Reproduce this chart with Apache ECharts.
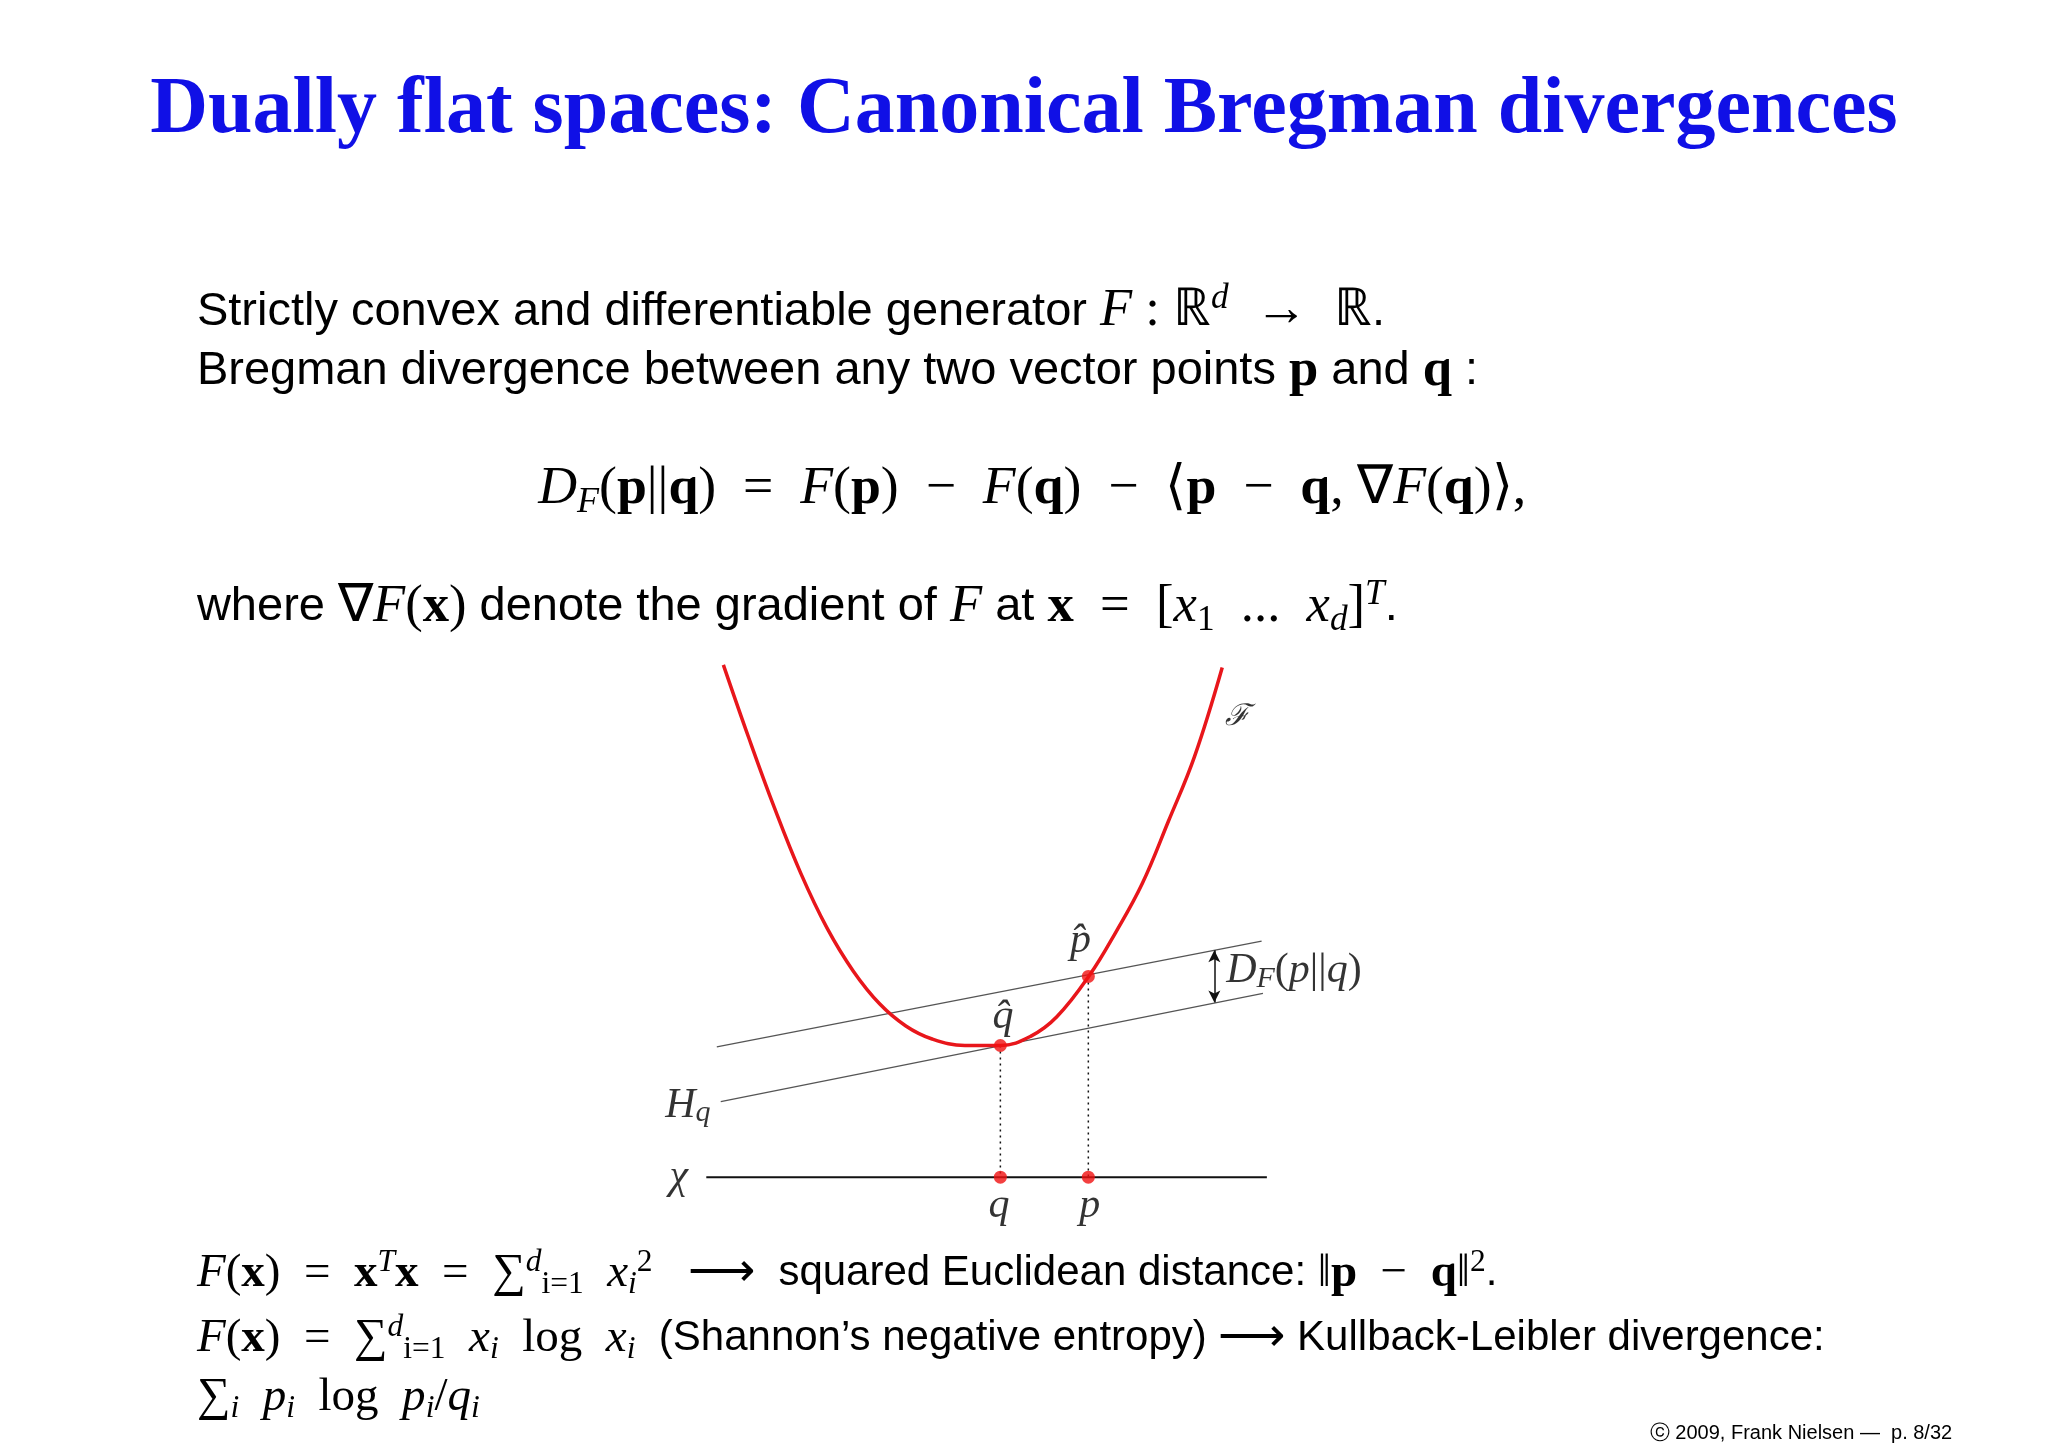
<!DOCTYPE html>
<html>
<head>
<meta charset="utf-8">
<script src="https://cdn.jsdelivr.net/npm/echarts@6/dist/echarts.min.js"></script>
<style>html,body{margin:0;padding:0;background:#fff}#chart{width:2048px;height:1447px}</style>
</head>
<body>
<div id="chart"></div>
<script>
// 図の値（元画像のピクセル座標を読み取り）
const curvePts = [[551,510],[570,565],[590,620],[610,670],[630,712],[650,745],[670,770],[690,787],[710,797],[735,802],[762,802],[785,795],[805,780],[830,748],[850,715],[870,678],[890,630],[910,580],[931,512]];
const upperLine = [[546,803],[961,722]];
const tangentLine = [[549,845],[962,762]];
const baseLine = [[538,903],[965,903]];
const dropQ = [[762,802],[762,903]];
const dropP = [[829,749],[829,903]];
const redDots = [[762,802],[829,749],[762,903],[829,903]];
const gapArrow = [[925,729],[925,769]];
const diagLabels = [
  { pos: [943,550], text: '{c|ℱ}' },
  { pos: [823,722], text: '{i|p̂}' },
  { pos: [764,780], text: '{i|q̂}' },
  { pos: [934,745], text: '{i|D}{s|F}{r|(}{i|p}{r|||}{i|q}{r|)}', left: true },
  { pos: [524,848], text: '{i|H}{s|q}' },
  { pos: [517,903], text: '{i|χ}' },
  { pos: [761,925], text: '{i|q}' },
  { pos: [830,925], text: '{i|p}' }
];

const SX = 2048 / 1560, SY = 1447 / 1110;
const serif = 'Liberation Serif';
const sans = 'Liberation Sans';

function richStyles(fs) {
  return {
    t: { fontFamily: sans, fontSize: fs, lineHeight: fs * 1.3 },
    r: { fontFamily: serif, fontSize: fs * 1.12, lineHeight: fs * 1.3 },
    i: { fontFamily: serif, fontStyle: 'italic', fontSize: fs * 1.12, lineHeight: fs * 1.3 },
    b: { fontFamily: serif, fontWeight: 'bold', fontSize: fs * 1.12, lineHeight: fs * 1.3 },
    sup: { fontFamily: serif, fontStyle: 'italic', fontSize: fs * 0.75, lineHeight: fs * 1.3, verticalAlign: 'top' },
    supr: { fontFamily: serif, fontSize: fs * 0.75, lineHeight: fs * 1.3, verticalAlign: 'top' },
    sub: { fontFamily: serif, fontStyle: 'italic', fontSize: fs * 0.75, lineHeight: fs * 1.1, verticalAlign: 'bottom' },
    subr: { fontFamily: serif, fontSize: fs * 0.75, lineHeight: fs * 1.1, verticalAlign: 'bottom' }
  };
}

function textLine(x, y, text, fs, align) {
  return {
    type: 'text', x: x * SX, y: y * SY,
    style: { text: text, rich: richStyles(fs), fill: '#000', align: align || 'left', verticalAlign: 'middle' }
  };
}

const FS = 47;
const texts = [
  textLine(150, 239, '{t|Strictly convex and differentiable generator }{i|F}{r| : ℝ}{sup|d}{r|  →  ℝ}{t|.}', FS),
  textLine(150, 285, '{t|Bregman divergence between any two vector points }{b|p}{t| and }{b|q}{t| :}', FS),
  textLine(410, 375, '{i|D}{sub|F}{r|(}{b|p}{r|||}{b|q}{r|)  =  }{i|F}{r|(}{b|p}{r|)  −  }{i|F}{r|(}{b|q}{r|)  −  ⟨}{b|p}{r|  −  }{b|q}{r|, ∇}{i|F}{r|(}{b|q}{r|)⟩,}', 48),
  textLine(150, 466, '{t|where }{r|∇}{i|F}{r|(}{b|x}{r|)}{t| denote the gradient of }{i|F}{t| at }{b|x}{r|  =  [}{i|x}{subr|1}{r|  ...  }{i|x}{sub|d}{r|]}{sup|T}{t|.}', FS),
  textLine(150, 977, '{i|F}{r|(}{b|x}{r|)  =  }{b|x}{sup|T}{b|x}{r|  =  ∑}{sup|d}{subr|i=1}{i|  x}{sub|i}{supr|2}{r|   ⟶  }{t|squared Euclidean distance: }{r|‖}{b|p}{r|  −  }{b|q}{r|‖}{supr|2}{t|.}', 42),
  textLine(150, 1027, '{i|F}{r|(}{b|x}{r|)  =  ∑}{sup|d}{subr|i=1}{i|  x}{sub|i}{r|  log  }{i|x}{sub|i}{t|  (Shannon\u2019s negative entropy) }{r|⟶}{t| Kullback-Leibler divergence:}', 42),
  textLine(150, 1072, '{r|∑}{sub|i}{i|  p}{sub|i}{r|  log  }{i|p}{sub|i}{r|/}{i|q}{sub|i}', 42),
  {
    type: 'text', x: 1487 * SX, y: 1100 * SY,
    style: { text: 'ⓒ 2009, Frank Nielsen —  p. 8/32', font: '20px "Liberation Sans"', fill: '#000', align: 'right', verticalAlign: 'middle' }
  }
];

const chartDom = document.getElementById('chart');
const myChart = echarts.init(chartDom);

const labelRich = {
  i: { fontFamily: serif, fontStyle: 'italic', fontSize: 42, color: '#000' },
  r: { fontFamily: serif, fontSize: 42, color: '#000' },
  s: { fontFamily: serif, fontStyle: 'italic', fontSize: 30, color: '#000', verticalAlign: 'bottom', lineHeight: 46 },
  c: { fontFamily: serif, fontStyle: 'italic', fontSize: 30, color: '#000' }
};

const gx0 = 490, gx1 = 1010, gy0 = 490, gy1 = 960;

const option = {
  animation: false,
  backgroundColor: '#fff',
  title: {
    text: 'Dually flat spaces: Canonical Bregman divergences',
    left: 'center', top: 66,
    textStyle: { fontFamily: serif, fontWeight: 'bold', fontSize: 80, color: '#1010e6' }
  },
  grid: { left: gx0 * SX, top: gy0 * SY, width: (gx1 - gx0) * SX, height: (gy1 - gy0) * SY },
  xAxis: { type: 'value', min: gx0, max: gx1, show: false },
  yAxis: { type: 'value', min: gy0, max: gy1, inverse: true, show: false },
  series: [
    { type: 'line', data: upperLine, symbol: 'none', lineStyle: { color: '#555', width: 1.3 } },
    { type: 'line', data: tangentLine, symbol: 'none', lineStyle: { color: '#555', width: 1.3 } },
    { type: 'line', data: baseLine, symbol: 'none', lineStyle: { color: '#111', width: 2 } },
    { type: 'line', data: dropQ, symbol: 'none', lineStyle: { color: '#111', width: 1.5, type: [2, 4] } },
    { type: 'line', data: dropP, symbol: 'none', lineStyle: { color: '#111', width: 1.5, type: [2, 4] } },
    { type: 'line', data: curvePts, smooth: 0.4, symbol: 'none', lineStyle: { color: '#e8161b', width: 3.5 } },
    {
      type: 'line', data: [], symbol: 'none',
      markLine: {
        silent: true, symbol: ['arrow', 'arrow'], symbolSize: [9, 12], label: { show: false },
        lineStyle: { color: '#111', width: 1.5, type: 'solid' },
        data: [[{ coord: gapArrow[0] }, { coord: gapArrow[1] }]]
      }
    },
    { type: 'scatter', data: redDots, symbolSize: 13, itemStyle: { color: '#f01010' }, z: 5 },
    {
      type: 'scatter', symbolSize: 0,
      data: diagLabels.map(d => ({
        value: d.pos,
        label: { show: true, formatter: d.text, position: d.left ? 'right' : 'inside', distance: 0, rich: labelRich }
      }))
    }
  ],
  graphic: texts
};

myChart.setOption(option);
window.addEventListener('resize', myChart.resize);
</script>
</body>
</html>
